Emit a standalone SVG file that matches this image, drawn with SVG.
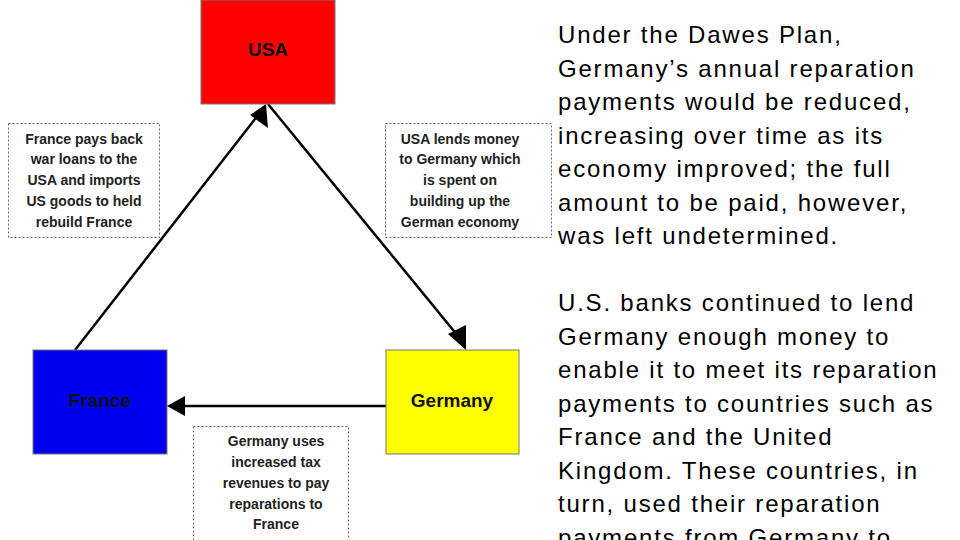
<svg xmlns="http://www.w3.org/2000/svg" width="960" height="540" viewBox="0 0 960 540">
<style>
.n{stroke:#777;stroke-width:1}
.nt{font-family:"Liberation Sans",Arial,sans-serif;font-weight:bold;font-size:19px;text-anchor:middle;fill:#111}
.note{fill:#fff;stroke:#666;stroke-width:1;stroke-dasharray:2,2}
.lt{font-family:"Liberation Sans",Arial,sans-serif;font-weight:bold;font-size:14px;text-anchor:middle;fill:#222}
.c{stroke:#000;stroke-width:2.5;fill:none}
.body{font-family:"Liberation Sans",Arial,sans-serif;font-size:24px;letter-spacing:1.8px;fill:#000}
</style>
<rect width="960" height="540" fill="#fff"/>
<g id="connectors">
<line class="c" x1="75" y1="350" x2="262" y2="110"/>
<path d="M266,104 L268,128 L250,115 z" fill="#000"/>
<line class="c" x1="268" y1="104" x2="458" y2="336"/>
<path d="M466,350 L448,334 L466,325 z" fill="#000"/>
<line class="c" x1="386" y1="406" x2="180" y2="406"/>
<path d="M167,406 L185,396 L185,416 z" fill="#000"/>
</g>
<g id="usa"><rect class="n" x="201" y="0" width="134" height="104" fill="#f00"/><text class="nt" x="268" y="56">USA</text></g>
<g id="france"><rect class="n" x="33" y="350" width="134" height="104" fill="#0000f0"/><text class="nt" x="100" y="407">France</text></g>
<g id="germany"><rect class="n" x="386" y="350" width="133" height="104" fill="#ff0"/><text class="nt" x="452" y="407">Germany</text></g>
<g id="note-left"><rect class="note" x="8.5" y="123.5" width="151" height="114"/>
<text class="lt" x="84" y="144">France pays back</text><text class="lt" x="84" y="164">war loans to the</text><text class="lt" x="84" y="185">USA and imports</text><text class="lt" x="84" y="206">US goods to held</text><text class="lt" x="84" y="227">rebuild France</text></g>
<g id="note-right"><rect class="note" x="385.5" y="123.5" width="166" height="114"/>
<text class="lt" x="460" y="144">USA lends money</text><text class="lt" x="460" y="164">to Germany which</text><text class="lt" x="460" y="185">is spent on</text><text class="lt" x="460" y="206">building up the</text><text class="lt" x="460" y="227">German economy</text></g>
<g id="note-bottom"><rect class="note" x="193.5" y="426.5" width="155" height="114"/>
<text class="lt" x="276" y="446">Germany uses</text><text class="lt" x="276" y="467">increased tax</text><text class="lt" x="276" y="488">revenues to pay</text><text class="lt" x="276" y="509">reparations to</text><text class="lt" x="276" y="529">France</text></g>
<g id="text">
<text class="body" x="558" y="43">Under the Dawes Plan,</text>
<text class="body" x="558" y="76.5">Germany’s annual reparation</text>
<text class="body" x="558" y="110">payments would be reduced,</text>
<text class="body" x="558" y="143.5">increasing over time as its</text>
<text class="body" x="558" y="177">economy improved; the full</text>
<text class="body" x="558" y="210.5">amount to be paid, however,</text>
<text class="body" x="558" y="244">was left undetermined.</text>
<text class="body" x="558" y="311">U.S. banks continued to lend</text>
<text class="body" x="558" y="344.5">Germany enough money to</text>
<text class="body" x="558" y="378">enable it to meet its reparation</text>
<text class="body" x="558" y="411.5">payments to countries such as</text>
<text class="body" x="558" y="445">France and the United</text>
<text class="body" x="558" y="478.5">Kingdom. These countries, in</text>
<text class="body" x="558" y="512">turn, used their reparation</text>
<text class="body" x="558" y="545.5">payments from Germany to</text>
</g>
</svg>
